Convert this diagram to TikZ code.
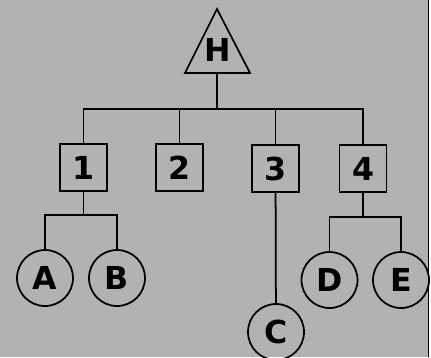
\documentclass[tikz,border=0pt]{standalone}
\usepackage{fontspec}
\setmainfont{DejaVu Sans}
\usetikzlibrary{positioning}
\definecolor{paper}{gray}{0.7}

\begin{document}
\begin{tikzpicture}[x=0.03cm,y=-0.03cm,
    line/.style={line width=1.5pt},
    letter/.style={font=\fontsize{27}{30}\selectfont\bfseries},
    box/.style={draw,line width=1.5pt,minimum size=47*0.03cm,inner sep=0pt,letter},
    ball/.style={draw,circle,line width=1.5pt,minimum size=56*0.03cm,inner sep=0pt,letter}]
    % --- BACKGROUND ---
    \useasboundingbox (0,0) rectangle (431,357);
    \fill[paper] (0,0) rectangle (428,357);
    \draw[line width=1pt] (428.5,0) -- (428.5,357);

    % --- TOP TRIANGLE ---
    \draw[line,line join=miter] (217,9) -- (250,73) -- (185,73) -- cycle;
    \node[letter] (H) at (218,50) {H};
    \coordinate (Hbase) at (217,73);
    \coordinate (bar) at (217,109);

    % --- BOXES ---
    \node[box] (b1) at (83.5,167.5) {1};
    \node[box] (b2) at (179.5,167.5) {2};
    \node[box] (b3) at (275.5,168.5) {3};
    \node[box] (b4) at (363,168.5) {4};

    % --- CIRCLES ---
    \node[ball] (A) at (45,278) {A};
    \node[ball] (B) at (117,278) {B};
    \node[ball] (C) at (276,332) {C};
    \node[ball] (D) at (329.5,280) {D};
    \node[ball] (E) at (401,280) {E};
    \coordinate (j1) at (83.5,215);
    \coordinate (j4) at (363,217);

    % --- CONNECTORS ---
    \draw[line] (Hbase) -- (bar);
    \draw[line] (bar) -| (b1);
    \draw[line] (bar) -| (b2);
    \draw[line] (bar) -| (b3);
    \draw[line] (bar) -| (b4);
    \draw[line] (b1) -- (j1);
    \draw[line] (j1) -| (A);
    \draw[line] (j1) -| (B);
    \draw[line] (b3) -- (C);
    \draw[line] (b4) -- (j4);
    \draw[line] (j4) -| (D);
    \draw[line] (j4) -| (E);
\end{tikzpicture}
\end{document}
